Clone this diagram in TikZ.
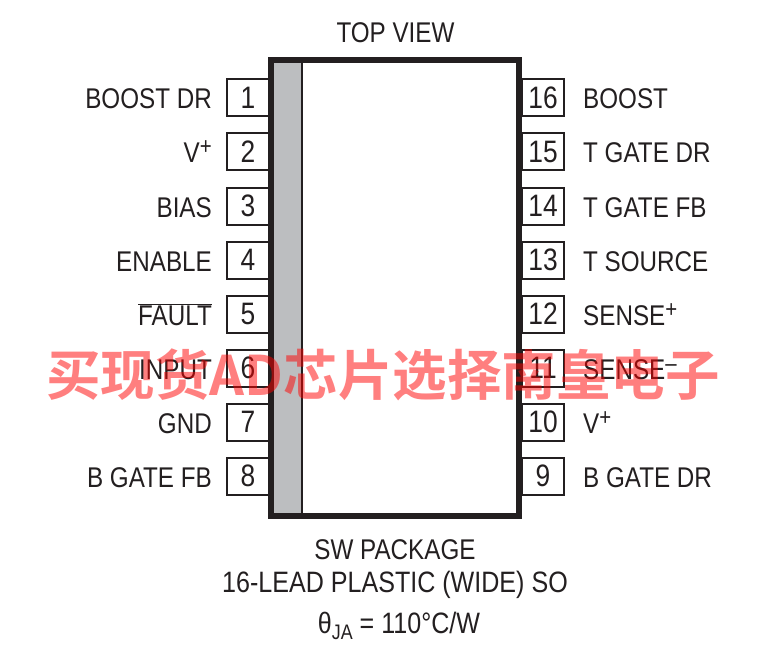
\documentclass[tikz,border=0pt]{standalone}
\usepackage{fontspec}
\setmainfont[FakeStretch=0.85]{Liberation Sans}
\newfontfamily\cjkbold[BoldFont=Noto Sans CJK SC Bold]{Noto Sans CJK SC}
\definecolor{inkblack}{HTML}{231F20}
\definecolor{stripgray}{HTML}{BCBEC0}
\newcommand{\biglabel}{\fontsize{28.5}{32}\selectfont}
\newcommand{\suptext}[1]{\raisebox{8pt}{\fontsize{24}{24}\selectfont #1}}
\newcommand{\subtext}[1]{\raisebox{-6pt}{\fontsize{21}{21}\selectfont #1}}

\begin{document}
\begin{tikzpicture}[x=1pt,y=-1pt,
pinbox/.style={rectangle,draw=inkblack,line width=2pt,fill=white,minimum width=42pt,minimum height=37pt,inner sep=0pt,font=\fontsize{31}{34}\selectfont,text=inkblack},
pinlabel/.style={inner sep=0pt,font=\biglabel,text=inkblack,text height=20pt,text depth=0pt},
caption/.style={inner sep=0pt,font=\biglabel,text=inkblack},
]

\useasboundingbox (0,0) rectangle (782,650);

\node[caption](top) at (395.5,32.5){TOP VIEW};

% pins on the left
\foreach \n/\name in {1/BOOST DR,2/V\suptext{+},3/BIAS,4/ENABLE,5/$\overline{\mbox{FAULT}}$,6/INPUT,7/GND,8/B GATE FB}{
\node[pinbox](pin\n) at (248,98+54*\n-54){\n};
\node[pinlabel,anchor=east](lab\n) at (212,99+54*\n-54){\name};
}

% pins on the right
\foreach \n/\name in {16/BOOST,15/T GATE DR,14/T GATE FB,13/T SOURCE,12/SENSE\suptext{+},11/SENSE\suptext{--},10/V\suptext{+},9/B GATE DR}{
\node[pinbox](pin\n) at (543,98+54*16-54*\n){\n};
\node[pinlabel,anchor=west](lab\n) at (583,99+54*16-54*\n){\name};
}

% package body
\node[rectangle,draw=inkblack,line width=6pt,fill=white,minimum width=248pt,minimum height=456pt,inner sep=0pt,outer sep=0pt,anchor=north west](chip) at (271,60){};
\coordinate (stripa) at (274,63);
\coordinate (stripb) at (302,513);
\fill[stripgray] (stripa) rectangle (stripb);
\draw[inkblack,line width=1.5pt] (stripb) -- (stripb |- stripa);

\node[caption](pack) at (395,550){SW PACKAGE};
\node[caption,font=\fontsize{29.5}{32}\selectfont](lead) at (395,584.5){16-LEAD PLASTIC (WIDE) SO};
\node[caption,font=\fontsize{29.5}{32}\selectfont](theta) at (399,626){θ\subtext{JA} = 110°C/W};

\node[inner sep=0pt,text=red,text opacity=.5,font=\cjkbold\bfseries\fontsize{54.5}{60}\selectfont](mark) at (383,375){买现货AD芯片选择南皇电子};

\end{tikzpicture}
\end{document}
